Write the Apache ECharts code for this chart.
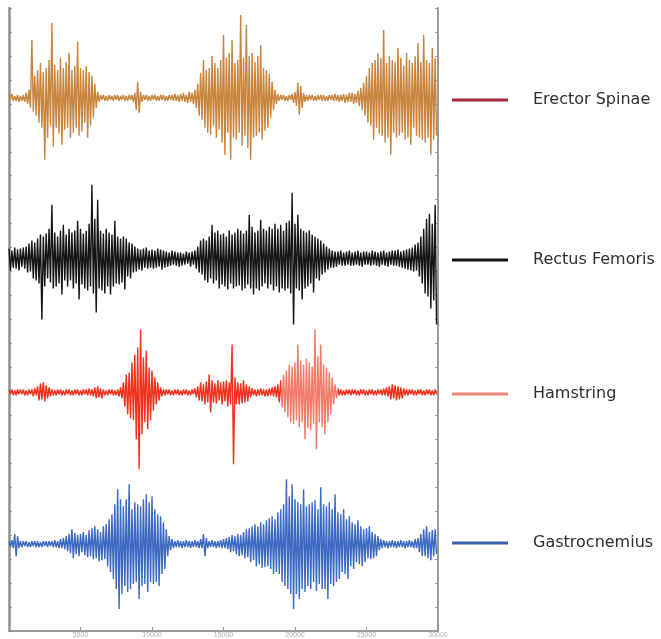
<!DOCTYPE html>
<html>
<head>
<meta charset="utf-8">
<script src="https://cdn.jsdelivr.net/npm/echarts@6/dist/echarts.min.js"></script>
<style>html,body{margin:0;padding:0;background:#fff;}#c{width:661px;height:639px;}</style>
</head>
<body>
<div id="c"></div>
<script>
// sample spacing along x (samples)
const xStep = 100;
const xTicks = [0, 5000, 10000, 15000, 20000, 25000, 30000];
const names = ['Erector Spinae', 'Rectus Femoris', 'Hamstring', 'Gastrocnemius'];
// baselines of each trace (stacked offsets, arbitrary units)
const baselines = [534, 373, 239, 87];

const erectorSpinae = [
  3,-2,4,-3,2,-3,3,-4,2,-3,
  3,-4,5,-6,8,-10,58,-14,22,-18,
  28,-25,35,-30,26,-62,30,-40,38,-28,
  75,-49,33,-30,28,-36,40,-47,30,-32,
  36,-30,45,-40,28,-35,32,-30,56,-38,
  30,-34,28,-25,32,-40,26,-28,22,-20,
  14,-10,6,-4,3,-2,3,-3,2,-3,
  3,-2,2,-3,3,-2,3,-3,2,-2,
  3,-3,2,-3,3,-2,3,-4,5,-12,
  16,-15,6,-4,3,-2,3,-3,2,-3,
  3,-2,3,-3,2,-3,3,-2,3,-3,
  2,-3,3,-2,3,-3,4,-3,3,-4,
  4,-3,5,-4,3,-5,6,-4,5,-6,
  8,-10,14,-18,25,-22,38,-30,28,-35,
  30,-37,42,-28,35,-40,30,-32,38,-45,
  63,-57,40,-35,45,-62,58,-40,35,-42,
  38,-35,83,-48,40,-38,73,-50,42,-62,
  45,-40,36,-38,42,-35,53,-42,30,-33,
  28,-30,24,-20,16,-12,8,-6,4,-3,
  3,-2,3,-3,2,-3,3,-2,4,-5,
  6,-8,15,-17,12,-10,5,-4,3,-3,
  3,-2,3,-3,2,-3,3,-2,3,-3,
  3,-3,2,-3,3,-2,3,-3,4,-3,
  3,-4,3,-3,4,-5,3,-4,5,-4,
  5,-6,4,-5,7,-8,10,-12,15,-18,
  22,-25,30,-28,35,-42,38,-30,45,-36,
  40,-38,68,-45,35,-40,42,-57,38,-35,
  36,-40,50,-38,40,-35,32,-42,45,-40,
  38,-47,35,-30,42,-38,55,-40,36,-42,
  63,-45,38,-40,35,-57,50,-42,40,-38
];
const rectusFemoris = [
  10,-12,8,-9,11,-10,9,-12,10,-8,
  11,-10,12,-14,15,-13,18,-20,16,-22,
  20,-25,24,-61,22,-28,25,-20,30,-24,
  54,-30,26,-28,22,-25,28,-36,34,-22,
  24,-28,30,-22,26,-30,28,-25,38,-41,
  30,-26,25,-30,28,-32,35,-28,74,-35,
  40,-54,59,-30,28,-32,25,-35,30,-28,
  26,-36,24,-28,38,-25,22,-26,20,-24,
  22,-31,20,-18,16,-20,15,-14,12,-13,
  10,-11,9,-12,10,-9,11,-10,8,-9,
  9,-10,8,-9,10,-8,9,-11,8,-9,
  7,-8,6,-7,8,-6,7,-7,6,-8,
  6,-7,5,-6,7,-5,6,-8,7,-6,
  8,-10,12,-14,18,-16,20,-22,18,-24,
  22,-20,34,-25,26,-22,28,-30,24,-26,
  25,-28,22,-31,28,-25,24,-30,26,-28,
  30,-27,28,-32,25,-30,28,-26,44,-30,
  32,-36,26,-30,28,-32,39,-28,30,-25,
  28,-30,32,-26,30,-32,35,-28,30,-34,
  34,-30,28,-32,36,-30,38,-35,66,-66,
  35,-30,44,-32,30,-41,28,-30,26,-28,
  28,-25,24,-34,22,-20,20,-22,18,-16,
  15,-14,12,-11,10,-9,8,-9,7,-8,
  7,-6,8,-7,6,-7,7,-6,8,-7,
  6,-7,7,-6,8,-7,6,-8,7,-6,
  7,-6,6,-7,8,-6,7,-7,6,-8,
  7,-6,8,-7,6,-8,7,-6,8,-7,
  8,-7,9,-8,7,-9,8,-10,9,-11,
  10,-12,11,-13,14,-12,16,-18,22,-25,
  30,-35,40,-38,45,-50,35,-42,54,-66
];
const hamstring = [
  3,-2,3,-3,2,-3,3,-2,3,-2,
  3,-3,2,-3,3,-2,3,-4,4,-3,
  6,-8,9,-7,10,-9,7,-6,5,-4,
  3,-3,2,-3,3,-2,3,-3,2,-3,
  3,-2,3,-3,2,-3,3,-2,3,-3,
  2,-3,3,-2,3,-3,4,-3,3,-4,
  5,-6,6,-5,4,-6,3,-3,2,-3,
  3,-2,3,-3,2,-3,3,-4,5,-6,
  10,-14,18,-22,20,-26,30,-28,38,-47,
  45,-77,63,-42,35,-30,42,-37,25,-28,
  22,-18,15,-12,10,-8,5,-4,3,-3,
  3,-2,3,-3,2,-3,3,-2,3,-3,
  2,-3,3,-2,3,-3,2,-3,3,-2,
  4,-5,6,-8,10,-9,8,-12,11,-10,
  18,-20,12,-10,9,-11,12,-8,10,-12,
  11,-9,12,-14,10,-12,48,-72,15,-12,
  10,-12,9,-11,12,-10,8,-9,6,-5,
  4,-3,3,-4,3,-3,4,-3,3,-4,
  3,-4,4,-3,5,-4,6,-5,8,-10,
  12,-15,18,-20,22,-25,28,-30,26,-32,
  30,-28,48,-35,32,-30,28,-47,34,-36,
  30,-38,26,-32,63,-57,36,-30,48,-35,
  28,-42,25,-30,20,-22,15,-12,8,-6,
  4,-3,3,-3,2,-3,3,-2,3,-3,
  3,-2,3,-3,2,-3,3,-2,3,-3,
  2,-3,3,-2,3,-3,2,-3,3,-2,
  3,-3,4,-3,5,-4,6,-7,8,-6,
  7,-8,6,-7,5,-6,4,-3,3,-3,
  3,-2,3,-3,2,-3,3,-2,3,-3,
  2,-3,3,-2,3,-3,2,-3,3,-2
];
const gastrocnemius = [
  3,-3,4,-4,10,-12,8,-4,3,-3,
  3,-2,3,-3,2,-3,3,-2,3,-3,
  3,-3,2,-3,3,-2,3,-3,3,-2,
  3,-3,4,-3,3,-4,5,-4,6,-5,
  8,-7,10,-9,15,-14,11,-10,9,-12,
  10,-8,12,-11,9,-13,14,-12,16,-15,
  18,-14,15,-17,12,-16,18,-15,20,-22,
  25,-28,30,-35,40,-45,55,-65,45,-50,
  38,-42,45,-48,60,-45,35,-40,42,-38,
  40,-55,38,-42,45,-40,50,-48,42,-38,
  48,-40,35,-38,30,-42,28,-30,22,-25,
  15,-12,8,-6,5,-4,3,-3,4,-3,
  3,-4,3,-3,4,-3,3,-4,3,-3,
  4,-3,3,-4,5,-4,10,-12,6,-4,
  3,-3,4,-3,3,-4,3,-3,4,-4,
  5,-4,6,-5,7,-8,9,-7,8,-10,
  10,-12,9,-11,12,-14,15,-13,16,-18,
  18,-16,20,-22,18,-20,22,-24,20,-23,
  24,-22,26,-25,28,-30,25,-28,32,-30,
  35,-38,40,-42,65,-45,48,-50,60,-65,
  45,-50,42,-55,40,-45,55,-48,38,-42,
  40,-45,42,-38,44,-47,35,-40,57,-45,
  40,-45,38,-55,42,-40,35,-42,50,-38,
  32,-35,30,-28,35,-30,25,-35,28,-22,
  22,-25,20,-18,24,-20,18,-22,15,-18,
  16,-14,18,-15,12,-14,10,-12,8,-6,
  5,-4,4,-3,3,-4,3,-3,4,-3,
  3,-4,3,-3,4,-3,3,-4,3,-3,
  4,-3,3,-4,5,-4,6,-8,10,-12,
  15,-12,18,-14,12,-16,14,-12,15,-10
];
const signals = [erectorSpinae, rectusFemoris, hamstring, gastrocnemius];
const traceColors = ['#c8843c', '#151515', null, '#3b69c2'];
const legendColors = ['#a8283a', '#151515', '#ec8a78', '#3a5fae'];
const hamstringRed = '#f0301c', hamstringLight = '#f27a66';

const chart = echarts.init(document.getElementById('c'), null, {renderer: 'canvas'});

const series = signals.map((arr, s) => {
  const ls = {width: 1.4};
  if (traceColors[s]) ls.color = traceColors[s];
  return {
    name: names[s],
    type: 'line',
    showSymbol: false,
    symbol: 'none',
    sampling: null,
    z: 2 + s,
    itemStyle: {color: legendColors[s]},
    lineStyle: ls,
    data: arr.map((v, i) => [i * xStep, baselines[s] + v])
  };
});

const legendTops = [92, 252, 386, 535];
const legends = names.map((n, s) => ({
  show: true,
  left: 452,
  top: legendTops[s],
  padding: 0,
  icon: 'rect',
  itemWidth: 56,
  itemHeight: 3,
  selectedMode: false,
  data: [{name: n, icon: 'rect', itemStyle: {color: legendColors[s]}}],
  textStyle: {fontFamily: 'DejaVu Sans', fontSize: 16, color: '#2e2e2e', padding: [0, 0, 0, 20]}
}));

const option = {
  animation: false,
  backgroundColor: '#ffffff',
  grid: {left: 9, right: 223, top: 8, bottom: 7},
  legend: legends,
  visualMap: {
    show: false,
    type: 'piecewise',
    seriesIndex: 2,
    dimension: 0,
    pieces: [
      {lt: 19000, color: hamstringRed},
      {gte: 19000, lt: 23000, color: hamstringLight},
      {gte: 23000, color: hamstringRed}
    ]
  },
  xAxis: {
    type: 'value', min: xTicks[0], max: xTicks[xTicks.length - 1], interval: 5000,
    axisLine: {show: true, lineStyle: {color: '#9a9a9a', width: 2}},
    axisTick: {show: true, inside: true, length: 4, lineStyle: {color: '#9a9a9a'}},
    axisLabel: {show: true, fontSize: 7, color: '#b0b0b0', margin: 1, fontFamily: 'Liberation Sans',
      formatter: v => v === 0 ? '' : String(v)},
    splitLine: {show: false}
  },
  yAxis: [{
    type: 'value', min: 0, max: 624, interval: 24, position: 'left',
    axisLine: {show: true, lineStyle: {color: '#8f8f8f', width: 2.5}},
    axisTick: {show: true, inside: true, length: 3, lineStyle: {color: '#8f8f8f'}},
    axisLabel: {show: false},
    splitLine: {show: false}
  }, {
    type: 'value', min: 0, max: 624, interval: 24, position: 'right',
    axisLine: {show: true, onZero: false, lineStyle: {color: '#9a9a9a', width: 2}},
    axisTick: {show: true, inside: true, length: 3, lineStyle: {color: '#9a9a9a'}},
    axisLabel: {show: false},
    splitLine: {show: false}
  }],
  series: series
};
chart.setOption(option);
</script>
</body>
</html>
